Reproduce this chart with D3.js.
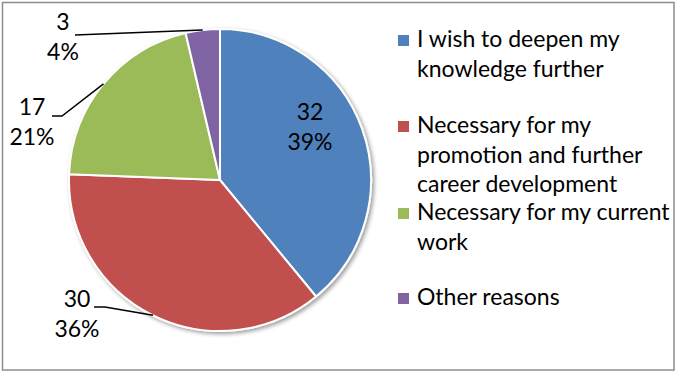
<!DOCTYPE html>
<html>
<head>
<meta charset="utf-8">
<script src="https://cdn.jsdelivr.net/npm/d3@7"></script>
<style>
  html, body { margin: 0; padding: 0; background: #fff; }
  svg { display: block; }
  text { font-family: Lato, "Open Sans", sans-serif; fill: #000; }
</style>
</head>
<body>
<svg id="chart" width="676" height="372"></svg>
<script>
// Reasons for further study
const categories = [
  "I wish to deepen my knowledge further",
  "Necessary for my promotion and further career development",
  "Necessary for my current work",
  "Other reasons"
];
const counts = [32, 30, 17, 3];
const percentLabels = ["39%", "36%", "21%", "4%"];
const legendLines = [
  ["I wish to deepen my", "knowledge further"],
  ["Necessary for my", "promotion and further", "career development"],
  ["Necessary for my current", "work"],
  ["Other reasons"]
];
const colors = ["#4F81BD", "#C0504D", "#9BBB59", "#8064A2"];

const W = 676, H = 372;
const cx = 220, cy = 180, R = 151;
const fontSize = 23;

const svg = d3.select("#chart");

// chart frame
svg.append("rect")
  .attr("x", 2.5).attr("y", 2.5)
  .attr("width", W - 4.5).attr("height", H - 4.5)
  .attr("fill", "#fff")
  .attr("stroke", "#8c8c8c")
  .attr("stroke-width", 1.5);

// soft shadow under the pie
const defs = svg.append("defs");
const f = defs.append("filter").attr("id", "pieShadow")
  .attr("x", "-10%").attr("y", "-10%").attr("width", "120%").attr("height", "120%");
f.append("feGaussianBlur").attr("in", "SourceAlpha").attr("stdDeviation", 2).attr("result", "b");
f.append("feOffset").attr("in", "b").attr("dx", 1.5).attr("dy", 2).attr("result", "o");
f.append("feComponentTransfer").attr("in", "o").attr("result", "s")
  .append("feFuncA").attr("type", "linear").attr("slope", 0.4);
const m = f.append("feMerge");
m.append("feMergeNode").attr("in", "s");
m.append("feMergeNode").attr("in", "SourceGraphic");

const color = d3.scaleOrdinal().domain(categories).range(colors);

const pie = d3.pie().sort(null).value(d => d.value);
const data = categories.map((c, i) => ({ name: c, value: counts[i], pct: percentLabels[i], lines: legendLines[i] }));
const arcs = pie(data);
const arc = d3.arc().innerRadius(0).outerRadius(R);

const g = svg.append("g").attr("transform", `translate(${cx},${cy})`);
g.append("g").attr("filter", "url(#pieShadow)")
  .selectAll("path").data(arcs).join("path")
  .attr("d", arc)
  .attr("fill", d => color(d.data.name))
  .attr("stroke", "#fff")
  .attr("stroke-width", 2)
  .attr("stroke-linejoin", "round");

// data labels: value on first line, percentage on second.
// The large slice is labelled inside; the others sit outside with a
// leader line running to the middle of the slice's outer edge.
const labelPlacement = [
  { mode: "inside", tx: 310, ty: 120 },
  { mode: "outside", tx: 77, ty: 307, leader: [[-126, 127], [-115, 127]] },
  { mode: "outside", tx: 32, ty: 115, leader: [[-168, -64], [-158, -64]] },
  { mode: "outside", tx: 63, ty: 30, leader: [[-145, -145]] }
];

arcs.forEach((d, i) => {
  const p = labelPlacement[i];
  if (p.mode === "outside") {
    const a = (d.startAngle + d.endAngle) / 2;
    const edge = [R * Math.sin(a), -R * Math.cos(a)];
    g.append("path")
      .attr("d", d3.line()(p.leader.concat([edge])))
      .attr("fill", "none")
      .attr("stroke", "#000")
      .attr("stroke-width", 1.5);
  }
  const t = svg.append("text").attr("text-anchor", "middle").style("font-size", fontSize + "px");
  t.append("tspan").attr("x", p.tx).attr("y", p.ty).text(d.data.value);
  t.append("tspan").attr("x", p.tx).attr("y", p.ty + 29.5).text(d.data.pct);
});

// legend
const legendX = 398, textX = 417;
const legendY = [47, 133, 220, 305];
const lg = svg.append("g");
data.forEach((d, i) => {
  lg.append("rect")
    .attr("x", legendX).attr("y", legendY[i] - 12)
    .attr("width", 11).attr("height", 11)
    .attr("fill", color(d.name));
  const t = lg.append("text").style("font-size", fontSize + "px");
  d.lines.forEach((ln, j) => {
    t.append("tspan").attr("x", textX).attr("y", legendY[i] + j * 29.5).text(ln);
  });
});
</script>
</body>
</html>
